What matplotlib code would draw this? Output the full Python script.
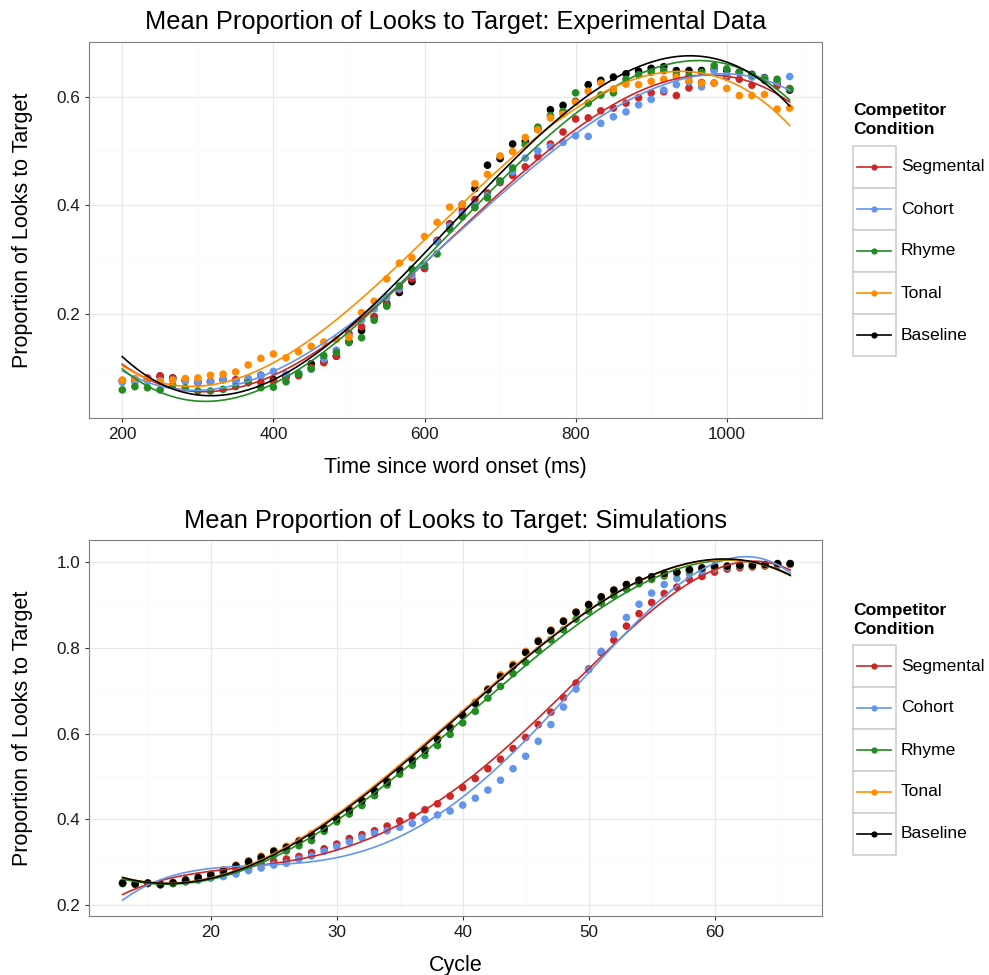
import numpy as np
import matplotlib
matplotlib.use('Agg')
import matplotlib.pyplot as plt
from matplotlib.patches import Rectangle

plt.rcParams['font.family'] = ['Liberation Sans', 'DejaVu Sans']

W, H = 989, 975

conditions = ['Segmental', 'Cohort', 'Rhyme', 'Tonal', 'Baseline']
colors = ['#CD2626', '#6495ED', '#228B22', '#FF8C00', '#000000']

# experimental data: 60 Hz samples starting at 200 ms
time_ms = 200 + np.arange(54) * 1000 / 60
segmental_exp = [.078, .080, .083, .087, .083, .079, .075, .077, .080, .080,
                 .077, .075, .077, .085, .087, .102, .111, .123, .165, .177,
                 .196, .218, .245, .265, .284, .336, .366, .391, .411, .423,
                 .442, .455, .471, .490, .513, .535, .559, .561, .574, .579,
                 .588, .598, .607, .609, .602, .616, .626, .625, .636, .632,
                 .621, .630, .620, .615]
cohort_exp = [.075, .076, .078, .078, .079, .077, .076, .076, .080, .076,
              .082, .088, .095, .090, .092, .099, .118, .134, .160, .189,
              .210, .231, .247, .272, .290, .333, .362, .385, .400, .418,
              .445, .462, .487, .500, .508, .516, .528, .527, .551, .563,
              .572, .585, .595, .612, .622, .627, .618, .648, .640, .644,
              .636, .634, .628, .637]
rhyme_exp = [.061, .067, .065, .061, .069, .065, .059, .059, .062, .067,
             .074, .065, .066, .076, .090, .100, .124, .130, .148, .157,
             .189, .215, .252, .283, .290, .311, .356, .379, .396, .414,
             .445, .469, .512, .544, .565, .573, .607, .588, .603, .607,
             .632, .640, .645, .648, .640, .638, .645, .657, .651, .645,
             .640, .632, .632, .614]
tonal_exp = [.079, .082, .080, .076, .079, .082, .083, .088, .090, .094,
             .107, .119, .127, .120, .131, .141, .149, .154, .158, .203,
             .224, .265, .294, .304, .343, .369, .397, .402, .440, .457,
             .491, .499, .525, .539, .561, .568, .590, .610, .625, .614,
             .623, .622, .628, .632, .636, .630, .625, .625, .615, .602,
             .602, .604, .577, .579]
baseline_exp = [.078, .080, .080, .086, .083, .078, .075, .076, .080, .078,
                .079, .088, .080, .085, .090, .109, .113, .123, .150, .170,
                .195, .220, .240, .260, .285, .335, .366, .402, .431, .474,
                .486, .513, .518, .540, .576, .584, .591, .622, .630, .636,
                .642, .647, .652, .655, .648, .648, .648, .650, .648, .645,
                .641, .635, .625, .612]

# simulations: one value per cycle
cycles = np.arange(13, 67)
segmental_sim = [.250, .248, .250, .247, .250, .254, .258, .263, .270, .278,
                 .286, .294, .301, .307, .313, .322, .331, .342, .355, .364,
                 .373, .384, .396, .408, .422, .436, .454, .474, .495, .518,
                 .540, .565, .591, .621, .650, .684, .718, .751, .789, .818,
                 .851, .880, .906, .927, .942, .960, .967, .977, .984, .987,
                 .989, .991, .993, .995]
cohort_sim = [.250, .248, .250, .247, .250, .254, .258, .263, .266, .272,
              .280, .286, .293, .297, .307, .314, .325, .336, .347, .357,
              .367, .373, .381, .390, .400, .410, .419, .433, .449, .468,
              .491, .518, .547, .582, .621, .662, .704, .749, .792, .832,
              .871, .902, .928, .948, .962, .974, .979, .985, .988, .990,
              .991, .993, .994, .996]
rhyme_sim = [.250, .248, .250, .247, .250, .255, .260, .266, .275, .285,
             .295, .305, .316, .326, .338, .350, .372, .394, .412, .432,
             .455, .480, .505, .526, .549, .572, .598, .625, .652, .683,
             .710, .740, .766, .794, .819, .842, .867, .886, .905, .922,
             .937, .950, .960, .968, .975, .980, .985, .988, .990, .991,
             .992, .994, .995, .996]
tonal_sim = [.252, .250, .251, .249, .252, .258, .265, .272, .282, .293,
             .303, .314, .327, .337, .351, .366, .383, .405, .425, .447,
             .470, .492, .519, .542, .566, .591, .618, .646, .674, .705,
             .737, .762, .792, .818, .842, .864, .884, .902, .920, .935,
             .948, .958, .966, .973, .977, .982, .986, .989, .990, .992,
             .993, .994, .995, .996]
baseline_sim = [.251, .249, .251, .248, .252, .258, .264, .270, .280, .291,
                .301, .311, .325, .334, .348, .362, .379, .401, .421, .443,
                .466, .487, .515, .537, .561, .586, .613, .642, .670, .702,
                .733, .758, .789, .815, .840, .862, .883, .901, .919, .935,
                .948, .958, .966, .974, .977, .983, .987, .991, .991, .993,
                .993, .995, .997, .997]

exp_series = [segmental_exp, cohort_exp, rhyme_exp, tonal_exp, baseline_exp]
sim_series = [segmental_sim, cohort_sim, rhyme_sim, tonal_sim, baseline_sim]


def frac(x, y):
    return x / W, 1 - y / H


def draw_panel(rect, x, series, order, point_order, xlim, ylim,
               xmajor, xminor, ymajor, yminor):
    ax = fig.add_axes(rect)
    ax.set_xlim(*xlim)
    ax.set_ylim(*ylim)
    for v in xminor:
        ax.axvline(v, color='#FAFAFA', lw=0.6, zorder=0)
    for v in yminor:
        ax.axhline(v, color='#FAFAFA', lw=0.6, zorder=0)
    for v in xmajor:
        ax.axvline(v, color='#E8E8E8', lw=0.9, zorder=0.5)
    for v in ymajor:
        ax.axhline(v, color='#E8E8E8', lw=0.9, zorder=0.5)
    for k in point_order:
        ax.scatter(x, series[k], s=30, color=colors[k], edgecolors='none', zorder=2)
    xs = np.linspace(x.min(), x.max(), 300)
    for ys, c in zip(series, colors):
        fit = np.polynomial.Polynomial.fit(x, ys, order)
        ax.plot(xs, fit(xs), color=c, lw=1.2, zorder=3)
    ax.set_xticks(xmajor)
    ax.set_yticks(ymajor)
    ax.tick_params(direction='out', length=3.2, width=0.8, color='#333333',
                   labelsize=12.3, labelcolor='#1a1a1a', pad=3)
    for s in ax.spines.values():
        s.set_color('#7F7F7F')
        s.set_linewidth(0.8)
    return ax


fig = plt.figure(figsize=(W / 100, H / 100), dpi=100)

# top panel
x0, x1 = 89, 822.3
top = draw_panel([x0 / W, 1 - 418.3 / H, (x1 - x0) / W, (418.3 - 41.7) / H],
                 time_ms, exp_series, 3, [4, 0, 1, 2, 3],
                 (155.9, 1126.5), (0.0088, 0.701),
                 [200, 400, 600, 800, 1000], [300, 500, 700, 900, 1100],
                 [0.2, 0.4, 0.6], [0.1, 0.3, 0.5, 0.7])
top.set_xticklabels(['200', '400', '600', '800', '1000'])
top.set_yticklabels(['0.2', '0.4', '0.6'])

# bottom panel
bot = draw_panel([x0 / W, 1 - 916 / H, (x1 - x0) / W, (916 - 540) / H],
                 cycles, sim_series, 4, [0, 1, 2, 3, 4],
                 (10.33, 68.55), (0.174, 1.052),
                 [20, 30, 40, 50, 60], [15, 25, 35, 45, 55, 65],
                 [0.2, 0.4, 0.6, 0.8, 1.0], [0.3, 0.5, 0.7, 0.9])
bot.set_yticklabels(['0.2', '0.4', '0.6', '0.8', '1.0'])

cx = (x0 + x1) / 2
fig.text(*frac(cx, 22), 'Mean Proportion of Looks to Target: Experimental Data',
         ha='center', va='center', fontsize=18.3)
fig.text(*frac(cx, 521), 'Mean Proportion of Looks to Target: Simulations',
         ha='center', va='center', fontsize=18.3)
fig.text(*frac(cx, 468), 'Time since word onset (ms)', ha='center', va='center', fontsize=15.5)
fig.text(*frac(cx, 966), 'Cycle', ha='center', va='center', fontsize=15.5)
fig.text(*frac(23, 230), 'Proportion of Looks to Target', ha='center', va='center',
         rotation=90, fontsize=15.5)
fig.text(*frac(23, 728), 'Proportion of Looks to Target', ha='center', va='center',
         rotation=90, fontsize=15.5)

# legends drawn in pixel space
lg = fig.add_axes([0, 0, 1, 1])
lg.set_xlim(0, W)
lg.set_ylim(H, 0)
lg.axis('off')
for dy in (0, 499):
    lg.text(853, 111 + dy, 'Competitor', fontweight='bold', fontsize=12.6, va='center')
    lg.text(853, 130 + dy, 'Condition', fontweight='bold', fontsize=12.6, va='center')
    for j, (name, c) in enumerate(zip(conditions, colors)):
        ktop = 146 + dy + 42 * j
        lg.add_patch(Rectangle((853, ktop), 43, 42, facecolor='white',
                               edgecolor='#CCCCCC', lw=1.1))
        lg.plot([857, 891], [ktop + 21, ktop + 21], color=c, lw=1.2)
        lg.plot([874], [ktop + 21], 'o', color=c, ms=4.5, mec='none')
        lg.text(901, ktop + 21, name, va='center', fontsize=12.6)

fig.savefig('out.png', dpi=100)
